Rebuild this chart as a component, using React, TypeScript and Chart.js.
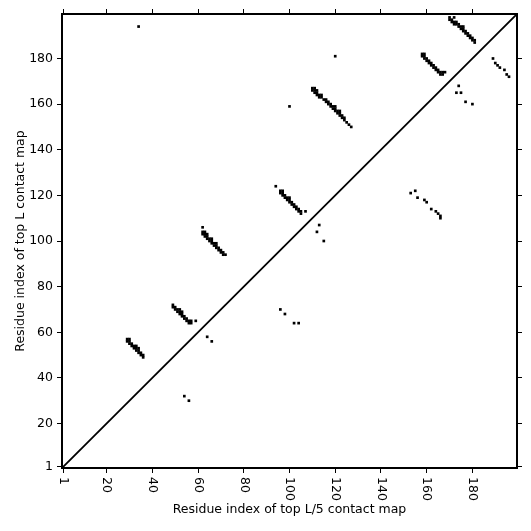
import React, { useEffect, useRef } from "react";
import { Chart, registerables } from "chart.js";

Chart.register(...registerables);

const AXIS_MIN = 0.5;
const AXIS_MAX = 199.5;
const tickValues = [1, 20, 40, 60, 80, 100, 120, 140, 160, 180];
const xTitle = "Residue index of top L/5 contact map";
const yTitle = "Residue index of top L contact map";
const diagonal = [0.5, 199.5];

// Upper triangle: top L contact map (x = i, y = j)
const topLSheetA: [number, number][] = [
  [29, 57], [29, 56], [30, 57], [30, 56], [30, 55], [31, 55], [31, 54], [32, 54],
  [32, 53], [33, 53], [33, 52], [34, 52], [34, 51], [35, 51], [35, 50], [36, 50],
  [36, 49], [33, 54], [34, 53],
];
const topLSheetB: [number, number][] = [
  [49, 72], [49, 71], [50, 71], [50, 70], [51, 70], [51, 69], [52, 69], [52, 68],
  [53, 68], [53, 67], [54, 67], [54, 66], [55, 66], [55, 65], [56, 65], [56, 64],
  [57, 65], [57, 64], [59, 65], [52, 70], [53, 69],
];
const topLSheetC: [number, number][] = [
  [62, 106], [62, 104], [62, 103], [63, 104], [63, 103], [63, 102], [64, 103],
  [64, 102], [64, 101], [65, 101], [65, 100], [66, 101], [66, 100], [66, 99], [67, 99],
  [67, 98], [68, 99], [68, 98], [68, 97], [69, 97], [69, 96], [70, 96], [70, 95],
  [71, 95], [71, 94], [72, 94],
];
const topLSheetD: [number, number][] = [
  [94, 124], [96, 122], [96, 121], [97, 122], [97, 121], [97, 120], [98, 120],
  [98, 119], [99, 119], [99, 118], [100, 119], [100, 118], [100, 117], [101, 117],
  [101, 116], [102, 116], [102, 115], [103, 115], [103, 114], [104, 114], [104, 113],
  [105, 113], [105, 112], [107, 113],
];
const topLSheetE: [number, number][] = [
  [110, 167], [111, 167], [110, 166], [111, 166], [112, 166], [111, 165], [112, 165],
  [112, 164], [113, 164], [113, 163], [114, 164], [114, 163], [115, 162], [116, 162],
  [116, 161], [117, 161], [117, 160], [118, 160], [118, 159], [119, 159], [119, 158],
  [120, 159], [120, 158], [120, 157], [121, 157], [121, 156], [122, 156], [122, 155],
  [123, 155], [123, 154], [124, 154], [124, 153], [125, 152], [126, 151], [127, 150],
  [122, 157],
];
const topLSheetF: [number, number][] = [
  [158, 182], [158, 181], [159, 182], [159, 181], [159, 180], [160, 180], [160, 179],
  [161, 179], [161, 178], [162, 178], [162, 177], [163, 177], [163, 176], [164, 176],
  [164, 175], [165, 175], [165, 174], [166, 174], [166, 173], [167, 173], [167, 174],
  [168, 174],
];
const topLSheetG: [number, number][] = [
  [170, 198], [172, 198], [170, 197], [171, 197], [171, 196], [172, 196], [173, 196],
  [172, 195], [173, 195], [174, 195], [174, 194], [175, 194], [175, 193], [176, 194],
  [176, 193], [176, 192], [177, 192], [177, 191], [178, 191], [178, 190], [179, 190],
  [179, 189], [180, 189], [180, 188], [181, 188], [181, 187],
];
const topLIsolated: [number, number][] = [
  [34, 194], [100, 159], [120, 181],
];

// Lower triangle: top L/5 contact map
const topL5Contacts: [number, number][] = [
  [54, 32], [56, 30], [64, 58], [66, 56], [96, 70], [98, 68], [102, 64], [104, 64],
  [113, 107], [112, 104], [115, 100], [153, 121], [155, 122], [156, 119], [159, 118],
  [160, 117], [162, 114], [164, 113], [165, 112], [166, 111], [166, 110], [173, 165],
  [175, 165], [174, 168], [177, 161], [180, 160], [189, 180], [190, 178], [191, 177],
  [192, 176], [194, 175], [195, 173], [196, 172],
];

const topLContacts = [
  ...topLSheetA, ...topLSheetB, ...topLSheetC, ...topLSheetD,
  ...topLSheetE, ...topLSheetF, ...topLSheetG, ...topLIsolated,
];

const FONT = '"DejaVu Sans", sans-serif';

function cellRadius(ctx: any): number {
  const s = ctx.chart.scales.x;
  if (!s) return 1.6;
  const side = Math.abs(s.getPixelForValue(1) - s.getPixelForValue(0));
  return (side + 0.4) / Math.SQRT2;
}

const rotatedXLabels = {
  id: "rotatedXLabels",
  afterDraw(chart: any) {
    const s = chart.scales.x;
    const c = chart.ctx;
    c.save();
    c.font = `12.5px ${FONT}`;
    c.fillStyle = "#000";
    c.textAlign = "left";
    c.textBaseline = "middle";
    for (const v of tickValues) {
      const px = s.getPixelForValue(v);
      c.save();
      c.translate(px, chart.chartArea.bottom + 9);
      c.rotate(Math.PI / 2);
      c.fillText(String(v), 0, 0);
      c.restore();
    }
    c.restore();
  },
};

function setTicks(scale: any) {
  scale.ticks = tickValues.map((v) => ({ value: v }));
}

export default function App() {
  const ref = useRef<HTMLCanvasElement | null>(null);
  useEffect(() => {
    if (!ref.current) return;
    const cell = {
      pointStyle: "rect",
      pointRadius: cellRadius,
      pointHoverRadius: cellRadius,
      pointBorderWidth: 0,
      pointBackgroundColor: "#000",
      borderColor: "#000",
      showLine: false,
    };
    const tickGrid = {
      display: true,
      drawOnChartArea: false,
      drawTicks: true,
      tickLength: 5,
      tickWidth: 1,
      tickColor: "#000",
    };
    const border = { display: true, width: 2, color: "#000" };
    const chart = new Chart(ref.current, {
      type: "scatter",
      data: {
        datasets: [
          {
            type: "line",
            label: "diagonal",
            data: diagonal.map((v) => ({ x: v, y: v })),
            borderColor: "#000",
            borderWidth: 1.8,
            pointRadius: 0,
            fill: false,
          } as any,
          {
            label: "top L",
            data: topLContacts.map(([x, y]) => ({ x, y })),
            ...cell,
          } as any,
          {
            label: "top L/5",
            data: topL5Contacts.map(([x, y]) => ({ x, y })),
            ...cell,
          } as any,
        ],
      },
      options: {
        animation: false,
        responsive: false,
        events: [],
        layout: { padding: 0 },
        plugins: {
          legend: { display: false },
          tooltip: { enabled: false },
          title: { display: false },
        },
        scales: {
          x: {
            type: "linear",
            position: "bottom",
            min: AXIS_MIN,
            max: AXIS_MAX,
            afterBuildTicks: setTicks,
            afterFit: (s: any) => { s.height = 63; },
            ticks: { display: false },
            grid: tickGrid,
            border,
            title: {
              display: true,
              text: xTitle,
              color: "#000",
              font: { family: FONT, size: 12.5 },
              padding: { top: 0, bottom: 13.5 },
            },
          },
          y: {
            type: "linear",
            position: "left",
            min: AXIS_MIN,
            max: AXIS_MAX,
            afterBuildTicks: setTicks,
            afterFit: (s: any) => { s.width = 62; },
            ticks: {
              display: true,
              autoSkip: false,
              color: "#000",
              padding: 4,
              font: { family: FONT, size: 12.5 },
              callback: (v: any) => String(v),
            },
            grid: tickGrid,
            border,
            title: {
              display: true,
              text: yTitle,
              color: "#000",
              font: { family: FONT, size: 12.5 },
              padding: { top: 13.5, bottom: 0 },
            },
          },
          x2: {
            type: "linear",
            axis: "x",
            position: "top",
            min: AXIS_MIN,
            max: AXIS_MAX,
            afterBuildTicks: setTicks,
            afterFit: (s: any) => { s.height = 14; },
            ticks: { display: false },
            grid: tickGrid,
            border,
          },
          y2: {
            type: "linear",
            axis: "y",
            position: "right",
            min: AXIS_MIN,
            max: AXIS_MAX,
            afterBuildTicks: setTicks,
            afterFit: (s: any) => { s.width = 14; },
            ticks: { display: false },
            grid: tickGrid,
            border,
          },
        },
      } as any,
      plugins: [rotatedXLabels],
    });
    return () => chart.destroy();
  }, []);
  return (
    <div style={{ position: "absolute", left: 0, top: 0, width: 531, height: 531, background: "#fff" }}>
      <canvas ref={ref} width={531} height={531} />
    </div>
  );
}
